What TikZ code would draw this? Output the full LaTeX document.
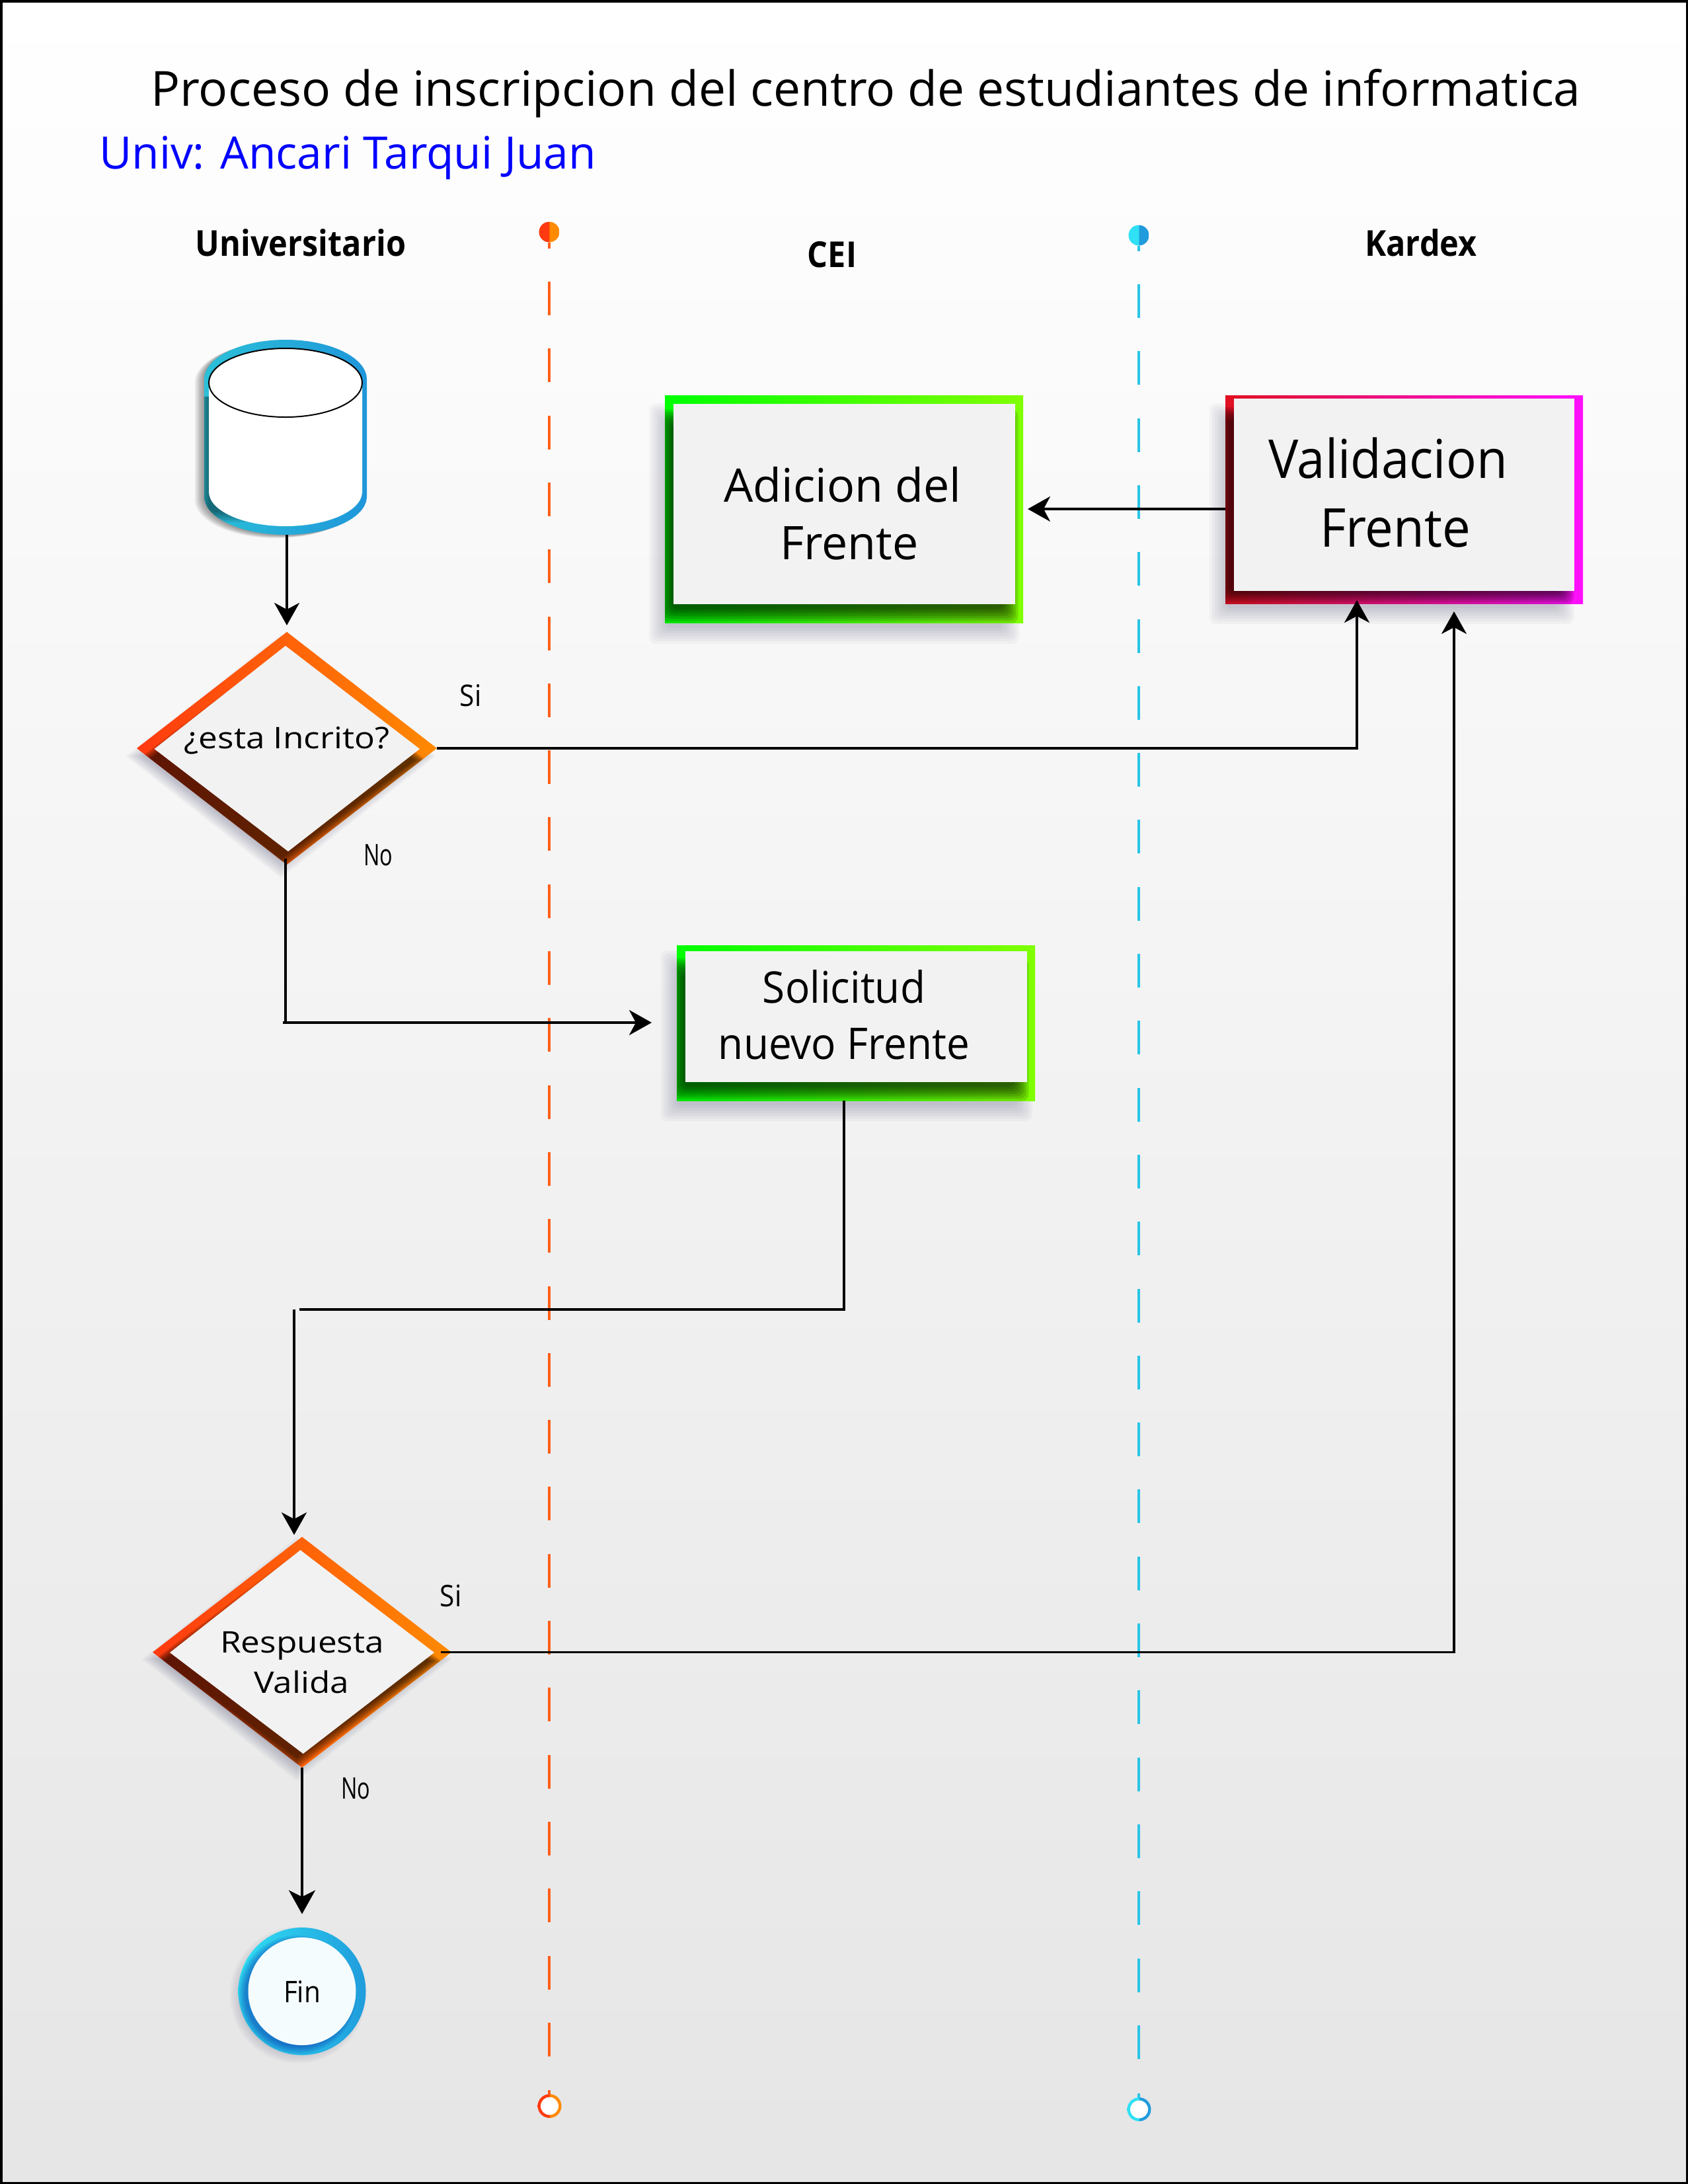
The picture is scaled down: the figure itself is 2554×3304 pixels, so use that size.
\documentclass[tikz,border=0pt]{standalone}
\usepackage{fontspec}
\setmainfont{Open Sans}
\newfontfamily\myr[FakeStretch=0.9]{Open Sans}
\newfontfamily\myfull{Open Sans}
\newfontfamily\myn[FakeStretch=0.94]{Open Sans}
\newfontfamily\myw[FakeStretch=1.14]{Open Sans}
\newfontfamily\mynn[FakeStretch=0.72]{Open Sans}
\usetikzlibrary{arrows.meta,shapes.geometric,calc}
\definecolor{pale}{HTML}{F2F2F2}
\definecolor{sdw}{HTML}{1B1F4D}
\definecolor{gL}{HTML}{00FF00}
\definecolor{gR}{HTML}{80FF00}
\definecolor{oL}{HTML}{FF3A10}
\definecolor{oM}{HTML}{FF4A0C}
\definecolor{oR}{HTML}{FF8A00}
\definecolor{vL}{HTML}{E01020}
\definecolor{vR}{HTML}{FF10FF}
\definecolor{cL}{HTML}{2BC0D8}
\definecolor{cR}{HTML}{1F96DA}
\definecolor{fL}{HTML}{30E0F4}
\definecolor{fR}{HTML}{209CDC}
\definecolor{redl}{HTML}{FF5F18}
\definecolor{blul}{HTML}{2AC4E6}
\pgfdeclarehorizontalshading{halfred}{100bp}{color(0bp)=(oL); color(49.9bp)=(oL); color(50.1bp)=(oR); color(100bp)=(oR)}
\pgfdeclarehorizontalshading{halfblu}{100bp}{color(0bp)=(fL); color(49.9bp)=(fL); color(50.1bp)=(fR); color(100bp)=(fR)}
% soft rectangle: x0 y0 x1 y1 colour spread alpha
\newcommand{\softrect}[7]{\foreach \k in {-3,...,3}{\fill[#5,opacity=#7,rounded corners=5pt]
  ({#1-\k*#6},{#2-\k*#6}) rectangle ({#3+\k*#6},{#4+\k*#6});}}
% soft diamond: cx cy rx ry colour spread alpha
\newcommand{\softdia}[7]{\foreach \k in {-3,...,3}{\fill[#5,opacity=#7]
  ({#1-#3-\k*#6},#2) -- (#1,{#2-#4-\k*#6}) -- ({#1+#3+\k*#6},#2) -- (#1,{#2+#4+\k*#6}) -- cycle;}}
% soft ellipse: cx cy rx ry colour spread alpha
\newcommand{\softell}[7]{\foreach \k in {-3,...,3}{\fill[#5,opacity=#7]
  (#1,#2) ellipse [x radius={#3+\k*#6},y radius={#4+\k*#6}];}}
\newcommand{\cylout}{(309,574) arc[start angle=180,end angle=360,x radius=123,y radius=60]
  -- (555,751) arc[start angle=0,end angle=180,x radius=123,y radius=58] -- cycle}
\tikzset{
  lbl/.style={inner sep=0pt,anchor=base,text=black},
  plain/.style={lbl,font=\myr\fontsize{22.5pt}{27pt}\selectfont},
  wide/.style={lbl,font=\myw\fontsize{22.5pt}{27pt}\selectfont},
  narrow/.style={lbl,font=\mynn\fontsize{22.5pt}{27pt}\selectfont},
  head/.style={lbl,font=\myr\bfseries\fontsize{27pt}{32pt}\selectfont},
  rectshape/.style={rectangle,inner sep=0pt,outer sep=0pt},
  diashape/.style={diamond,inner sep=0pt,outer sep=0pt},
  conn/.style={draw=black,line width=1.75pt,-{Stealth[length=17pt,width=19pt,inset=5pt]}},
  bare/.style={draw=black,line width=1.75pt},
  reddash/.style={draw=redl,line width=2pt,dash pattern=on 25.5pt off 25.15pt},
  bludash/.style={draw=blul,line width=2pt,dash pattern=on 25.5pt off 25.15pt},
}
\begin{document}
\begin{tikzpicture}[x=0.5pt,y=-0.5pt]
\useasboundingbox (0,0) rectangle (2554,3304);
% page
\shade[top color=white,bottom color=black!10] (0,0) rectangle (2554,3304);
\draw[black,line width=2pt] (1.5,1.5) rectangle (2552.5,3302.5);
% title
\node[lbl,font=\myfull\fontsize{36.6pt}{44pt}\selectfont] (title) at (1310,160) {Proceso de inscripcion del centro de estudiantes de informatica};
\node[lbl,font=\myfull\fontsize{33.8pt}{42pt}\selectfont,text=blue] (autor) at (526,255) {Univ: Ancari Tarqui Juan};
\node[head] (hU) at (455,387) {Universitario};
\node[head] (hC) at (1259,404) {CEI};
\node[head] (hK) at (2150,387) {Kardex};
% swim lines
\node[ellipse,shading=halfred,minimum width=15.5pt,minimum height=15.5pt,inner sep=0pt] (redtop) at (831,351) {};
\node[ellipse,shading=halfblu,minimum width=15.5pt,minimum height=15.5pt,inner sep=0pt] (blutop) at (1723,356) {};
\node[ellipse,shading=halfred,minimum width=18pt,minimum height=18pt,inner sep=0pt] (redbot) at (831.5,3186) {};
\node[ellipse,shading=halfblu,minimum width=18pt,minimum height=18pt,inner sep=0pt] (blubot) at (1723.5,3191) {};
\fill[white] (redbot) ellipse [x radius=13.5,y radius=13.5];
\fill[white] (blubot) ellipse [x radius=13.5,y radius=13.5];
\coordinate (r1) at (831,376); \coordinate (r2) at (831,426); \coordinate (r3) at (831,3112); \coordinate (r4) at (831,3162);
\coordinate (b1) at (1723,380); \coordinate (b2) at (1723,430); \coordinate (b3) at (1723,3117); \coordinate (b4) at (1723,3167);
\draw[draw=redl,line width=2pt] (redtop) -- (r1);
\draw[reddash] (r2) -- (r3);
\draw[draw=redl,line width=2pt] (r4) -- (redbot.north -| r4);
\draw[draw=blul,line width=2pt] (blutop) -- (b1);
\draw[bludash] (b2) -- (b3);
\draw[draw=blul,line width=2pt] (b4) -- (blubot.north -| b4);
% cylinder
\node[rectshape,minimum width=123pt,minimum height=147.5pt] (cyl) at (432,661.5) {};
\foreach \k in {0,...,5}{
  \begin{scope}[shift={({-14+\k*2.4},{5-\k*0.8})}]
  \fill[black,opacity=.07] \cylout;
  \end{scope}}
\shade[left color=cL,right color=cR] \cylout;
\begin{scope}
\clip \cylout;
\foreach \k in {0,...,5}{
  \fill[black,opacity=.09] ({300+\k*3},600) rectangle (400,{790-\k*3});}
\end{scope}
\fill[white] (316,579) arc[start angle=180,end angle=360,x radius=116,y radius=52]
  -- (548,744) arc[start angle=0,end angle=180,x radius=116,y radius=52] -- cycle;
\draw[black,line width=1pt] (432,579) ellipse [x radius=116,y radius=52];
% adicion
\softrect{994}{622}{1530}{962}{sdw}{4}{.035}
\node[rectshape,left color=gL,right color=gR,minimum width=271pt,minimum height=172pt] (adicion) at (1277,770) {};
\begin{scope}
\clip (adicion.south west) rectangle (adicion.north east);
\softrect{1005}{630}{1530}{932}{black}{3.5}{.13}
\end{scope}
\fill[pale] (1019,611) rectangle (1536,914);
\node[lbl,font=\myfull\fontsize{35pt}{42pt}\selectfont] (ta1) at (1275,759) {Adicion del};
\node[lbl,font=\myfull\fontsize{35pt}{42pt}\selectfont] (ta2) at (1285,846) {Frente};
% validacion
\softrect{1842}{622}{2370}{932}{sdw}{4}{.035}
\node[rectshape,left color=vL,right color=vR,minimum width=270.5pt,minimum height=157.5pt] (valid) at (2124.5,755.5) {};
\begin{scope}
\clip (valid.south west) rectangle (valid.north east);
\softrect{1850}{625}{2372}{905}{black}{3}{.13}
\end{scope}
\fill[pale] (1867,603) rectangle (2382,894);
\node[lbl,font=\myn\fontsize{40.5pt}{48pt}\selectfont] (tv1) at (2100,723) {Validacion};
\node[lbl,font=\myn\fontsize{40.5pt}{48pt}\selectfont] (tv2) at (2111,827) {Frente};
% solicitud
\softrect{1012}{1450}{1550}{1684}{sdw}{4}{.035}
\node[rectshape,left color=gL,right color=gR,minimum width=271pt,minimum height=117.5pt] (soli) at (1295,1547.5) {};
\begin{scope}
\clip (soli.south west) rectangle (soli.north east);
\softrect{1022}{1460}{1546}{1655}{black}{3.5}{.13}
\end{scope}
\fill[pale] (1037,1439) rectangle (1553.5,1637);
\node[lbl,font=\myn\fontsize{33pt}{40pt}\selectfont] (ts1) at (1277,1517) {Solicitud};
\node[lbl,font=\myn\fontsize{33pt}{40pt}\selectfont] (ts2) at (1277,1602) {nuevo Frente};
% diamond 1
\softdia{425}{1144}{222}{172}{sdw}{4}{.04}
\node[diashape,left color=oL,middle color=oM,right color=oR,aspect=1.29,minimum width=227pt,minimum height=176pt] (d1) at (434,1132) {};
\begin{scope}
\clip (d1.north) -- (d1.east) -- (d1.south) -- (d1.west) -- cycle;
\softdia{426}{1150}{210}{158}{black}{3}{.13}
\end{scope}
\fill[pale] (233.6,1133) -- (432,977) -- (635,1133) -- (436,1288) -- cycle;
\node[wide] (td1) at (434,1132) {¿esta Incrito?};
% diamond 2
\softdia{449}{2510}{222}{172}{sdw}{4}{.04}
\node[diashape,left color=oL,middle color=oM,right color=oR,aspect=1.3,minimum width=226pt,minimum height=174.5pt] (d2) at (457,2499.5) {};
\begin{scope}
\clip (d2.north) -- (d2.east) -- (d2.south) -- (d2.west) -- cycle;
\softdia{449}{2513}{210}{155}{black}{3}{.13}
\end{scope}
\fill[pale] (257,2500) -- (454.5,2345) -- (657,2500) -- (458.7,2653) -- cycle;
\node[wide] (td21) at (457,2500) {Respuesta};
\node[wide] (td22) at (456,2561) {Valida};
% fin
\softell{451}{3018}{94}{94}{sdw}{3}{.03}
\node[ellipse,left color=fL,right color=fR,inner sep=0pt,minimum width=96.5pt,minimum height=96.5pt] (fin) at (457,3012.5) {};
\begin{scope}
\clip (457,3012.5) ellipse [x radius=96.5,y radius=96.5];
\softell{449}{3018}{84}{84}{blue!60!black}{2}{.07}
\end{scope}
\fill[white!96!cyan] (457,3012.5) ellipse [x radius=81.5,y radius=81.5];
\node[plain] (tf) at (457,3029) {Fin};
% labels
\node[plain] (si1) at (712,1068) {Si};
\node[narrow] (no1) at (572,1309) {No};
\node[plain] (si2) at (682,2430) {Si};
\node[narrow] (no2) at (538,2721) {No};
% connectors
\coordinate (vt1) at (2053,908);
\coordinate (vt2) at (2200,925);
\coordinate (el1) at (432,1547);
\coordinate (el2) at (453,1981);
\coordinate (el3) at (445,1981);
\coordinate (el4) at (1277,1981);
\draw[conn,shorten >=5pt] (cyl.south -| d1.north) -- (d1.north);
\draw[conn,shorten >=3.5pt] (valid.west |- adicion.east) -- (adicion.east);
\draw[conn] (d1.east) -- (vt1 |- d1.east) -- (vt1);
\draw[bare,shorten <=-4.5pt] (el1 |- d1.south) -- (el1);
\draw[conn,shorten >=19pt] ($(el1)+(-4,0)$) -- (el1 -| soli.west);
\draw[bare] (el4 |- soli.south) -- (el4) -- (el2);
\draw[conn,shorten >=1.5pt] (el3) -- (el3 |- d2.north);
\draw[conn,shorten <=-8pt] (d2.east) -- (vt2 |- d2.east) -- (vt2);
\draw[conn,line width=2pt,-{Stealth[length=18pt,width=20pt,inset=5pt]},shorten >=10pt] (d2.south) -- (fin.north);
\end{tikzpicture}
\end{document}
